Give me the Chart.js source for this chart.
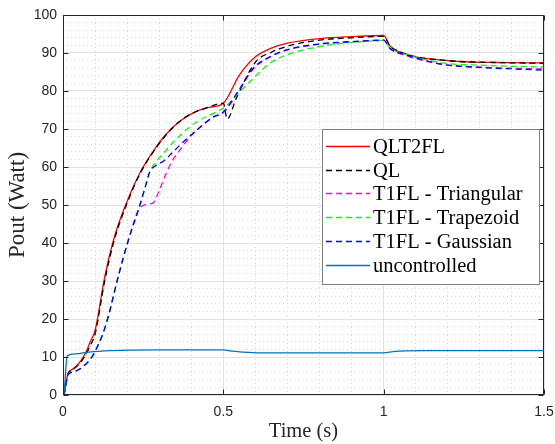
<!DOCTYPE html>
<html><head><meta charset="utf-8">
<script src="https://cdn.jsdelivr.net/npm/chart.js@4/dist/chart.umd.min.js"></script>
<style>html,body{margin:0;padding:0;background:#fff;}#wrap{width:555px;height:444px;}</style>
</head><body><div id="wrap"><canvas id="c" width="555" height="444"></canvas></div>
<script>
const seriesLabels = ['QLT2FL', 'QL', 'T1FL - Triangular', 'T1FL - Trapezoid', 'T1FL - Gaussian', 'uncontrolled'];
const xTickValues = [0, 0.5, 1, 1.5];
const yTickValues = [0, 10, 20, 30, 40, 50, 60, 70, 80, 90, 100];

const qlt2flTime  = [0, 0.004, 0.015, 0.03, 0.05, 0.07, 0.085, 0.1, 0.13, 0.16, 0.2, 0.24, 0.28, 0.32, 0.36, 0.4, 0.45, 0.5, 0.55, 0.6, 0.65, 0.7, 0.8, 0.9, 1.0, 1.02, 1.05, 1.1, 1.175, 1.25, 1.35, 1.5];
const qlt2flPower = [0, 0.5, 5.6, 6.8, 8.4, 11, 14, 17, 31, 41.5, 51, 58.5, 64, 68.5, 71.8, 74, 75.6, 76.8, 84.2, 89, 91.3, 92.6, 93.8, 94.3, 94.6, 91.8, 90.3, 89, 88.2, 87.7, 87.5, 87.4];

const qlTime  = [0, 0.004, 0.015, 0.03, 0.05, 0.07, 0.085, 0.1, 0.13, 0.16, 0.2, 0.24, 0.28, 0.32, 0.36, 0.4, 0.45, 0.5, 0.512, 0.54, 0.6, 0.65, 0.7, 0.8, 0.9, 1.0, 1.02, 1.05, 1.1, 1.175, 1.25, 1.35, 1.5];
const qlPower = [0, 0.5, 5.4, 6.6, 8.1, 10.5, 13, 16, 30, 40.8, 50.5, 58.2, 63.8, 68.3, 71.7, 74, 75.6, 76.8, 72.6, 78, 87.6, 90.2, 91.8, 93.4, 94.0, 94.4, 91.8, 90.3, 89, 88.2, 87.7, 87.5, 87.3];

const triTime  = [0, 0.004, 0.015, 0.03, 0.06, 0.09, 0.11, 0.126, 0.141, 0.172, 0.204, 0.235, 0.245, 0.262, 0.28, 0.3, 0.313, 0.34, 0.365, 0.39, 0.417, 0.469, 0.5, 0.552, 0.593, 0.645, 0.7, 0.8, 0.9, 1.0, 1.02, 1.07, 1.145, 1.2, 1.3, 1.4, 1.5];
const triPower = [0, 0.5, 5.3, 6, 7.3, 10, 13.2, 16.5, 20.6, 31.1, 40.8, 48.7, 49.6, 50.2, 50.5, 53.8, 56.6, 61.5, 64.5, 67.3, 69.7, 73.2, 74.3, 80.5, 85.8, 88.9, 90.8, 92.3, 92.9, 93.3, 91.1, 89.3, 87.6, 86.8, 86.3, 86, 85.8];

const trapTime  = [0, 0.004, 0.015, 0.03, 0.06, 0.09, 0.11, 0.126, 0.141, 0.172, 0.204, 0.235, 0.255, 0.271, 0.29, 0.313, 0.34, 0.365, 0.417, 0.469, 0.5, 0.52, 0.562, 0.593, 0.645, 0.697, 0.8, 0.905, 1.0, 1.02, 1.07, 1.145, 1.2, 1.3, 1.4, 1.5];
const trapPower = [0, 0.5, 5.3, 6, 7.3, 10, 13.2, 16.5, 20.6, 31.1, 40.8, 48.7, 54.3, 58.8, 61.3, 63.6, 66.2, 68.3, 71.9, 74.1, 75.5, 77, 80.7, 83.3, 87.3, 89.5, 91.7, 92.8, 93.3, 91.3, 89.6, 88, 87.2, 86.8, 86.5, 86.3];

const gaussTime  = [0, 0.004, 0.015, 0.03, 0.06, 0.09, 0.11, 0.126, 0.141, 0.172, 0.204, 0.235, 0.255, 0.271, 0.29, 0.313, 0.34, 0.365, 0.417, 0.469, 0.5, 0.552, 0.593, 0.645, 0.7, 0.8, 0.9, 1.0, 1.02, 1.07, 1.145, 1.2, 1.3, 1.4, 1.5];
const gaussPower = [0, 0.5, 5.3, 6, 7.3, 10, 13.2, 16.5, 20.6, 31.1, 40.8, 48.7, 54.3, 58.8, 60.4, 61.5, 63.7, 65.8, 69.7, 73.2, 74.5, 80.7, 86, 89, 90.9, 92.4, 93, 93.4, 91.2, 89.5, 87.7, 86.8, 86.2, 85.8, 85.5];

const uncTime  = [0, 0.003, 0.013, 0.04, 0.08, 0.15, 0.3, 0.5, 0.52, 0.56, 0.62, 0.8, 1.0, 1.03, 1.07, 1.13, 1.3, 1.5];
const uncPower = [0, 0.5, 10.3, 10.8, 11.3, 11.7, 11.9, 11.9, 11.6, 11.3, 11.1, 11.1, 11.1, 11.4, 11.6, 11.7, 11.7, 11.7];

const seriesTimes  = [qlt2flTime, qlTime, triTime, trapTime, gaussTime, uncTime];
const seriesPowers = [qlt2flPower, qlPower, triPower, trapPower, gaussPower, uncPower];
const seriesColors = ['#ff0000', '#000000', '#ff00ff', '#00ff00', '#0000ff', '#0072bd'];
const seriesDashed = [false, true, true, true, true, false];

const datasets = seriesLabels.map((lab, i) => ({
  label: lab,
  data: seriesTimes[i].map((t, k) => ({x: t, y: seriesPowers[i][k]})),
  borderColor: seriesColors[i],
  backgroundColor: seriesColors[i],
  borderWidth: 1.3,
  borderDash: seriesDashed[i] ? [6, 4] : [],
  pointRadius: 0,
  fill: false,
  cubicInterpolationMode: 'monotone',
  order: seriesLabels.length - i
}));

const AX = '#262626';
const serif = "'Liberation Serif', 'Times New Roman', serif";
const sans = "'Liberation Sans', Arial, Helvetica, sans-serif";

const boxPlugin = {
  id: 'boxPlugin',
  afterDraw(chart) {
    const {ctx, chartArea: ca, scales} = chart;
    const L = Math.round(ca.left) + 0.5, R = Math.round(ca.right) - 0.5;
    const T = Math.round(ca.top) + 0.5, B = Math.round(ca.bottom) - 0.5;
    ctx.save();
    ctx.strokeStyle = AX; ctx.lineWidth = 1; ctx.setLineDash([]);
    ctx.beginPath();
    ctx.rect(L, T, R - L, B - T);
    xTickValues.forEach(v => {
      const px = Math.round(scales.x.getPixelForValue(v)) + 0.5;
      ctx.moveTo(px, B); ctx.lineTo(px, B - 5);
      ctx.moveTo(px, T); ctx.lineTo(px, T + 5);
    });
    yTickValues.forEach(v => {
      const py = Math.round(scales.y.getPixelForValue(v)) + 0.5;
      ctx.moveTo(L, py); ctx.lineTo(L + 5, py);
      ctx.moveTo(R, py); ctx.lineTo(R - 5, py);
    });
    ctx.stroke();

    // legend
    const bx = 322.5, by = 129.5, bw = 217, bh = 155;
    ctx.fillStyle = '#ffffff';
    ctx.fillRect(bx, by, bw, bh);
    ctx.strokeStyle = '#808080';
    ctx.strokeRect(bx, by, bw, bh);
    ctx.font = '20.5px ' + serif;
    ctx.textBaseline = 'middle';
    ctx.textAlign = 'left';
    chart.data.datasets.forEach((ds, i) => {
      const yy = Math.round(146 + i * 23.7) + 0.5;
      ctx.strokeStyle = ds.borderColor;
      ctx.lineWidth = ds.borderWidth;
      ctx.setLineDash(ds.borderDash);
      ctx.beginPath(); ctx.moveTo(326, yy); ctx.lineTo(370, yy); ctx.stroke();
      ctx.setLineDash([]);
      ctx.fillStyle = '#000000';
      ctx.fillText(ds.label, 373, yy + 1);
    });
    ctx.restore();
  }
};

const noPad = s => { s.paddingLeft = 0; s.paddingRight = 0; };

new Chart(document.getElementById('c'), {
  type: 'line',
  data: {datasets},
  options: {
    responsive: false,
    animation: false,
    devicePixelRatio: 1,
    layout: {padding: {top: 15, right: 11, left: 0, bottom: 0}},
    plugins: {legend: {display: false}, tooltip: {enabled: false}},
    scales: {
      x: {
        type: 'linear', min: 0, max: 1.5, position: 'bottom',
        afterBuildTicks: s => { s.ticks = xTickValues.map(v => ({value: v})); },
        ticks: {font: {family: sans, size: 14}, color: AX, padding: 9, maxRotation: 0, autoSkip: false,
                callback: v => String(v)},
        grid: {color: '#e2e2e2', drawTicks: false, lineWidth: 1},
        border: {display: false},
        title: {display: true, text: 'Time (s)', color: AX, font: {family: serif, size: 20.5}, padding: {top: 0, bottom: 0}},
        afterFit: s => { s.height = 49; noPad(s); }
      },
      xMinor: {
        type: 'linear', min: 0, max: 1.5, position: 'bottom',
        afterBuildTicks: s => { const t = []; for (let k = 1; k < 15; k++) if (k % 5) t.push({value: k / 10}); s.ticks = t; },
        ticks: {display: false},
        grid: {color: '#d6d6d6', drawTicks: false, lineWidth: 1},
        border: {display: false, dash: [1, 3]},
        afterFit: s => { s.height = 0; noPad(s); }
      },
      y: {
        type: 'linear', min: 0, max: 100, position: 'left',
        afterBuildTicks: s => { s.ticks = yTickValues.map(v => ({value: v})); },
        ticks: {font: {family: sans, size: 14}, color: AX, padding: 6, autoSkip: false},
        grid: {color: '#e2e2e2', drawTicks: false, lineWidth: 1},
        border: {display: false},
        title: {display: true, text: 'Pout (Watt)', color: AX, font: {family: serif, size: 23}, padding: {top: 4, bottom: 0}},
        afterFit: s => { s.width = 63; }
      },
      yMinor: {
        type: 'linear', min: 0, max: 100, position: 'left',
        afterBuildTicks: s => { const t = []; for (let k = 1; k < 50; k++) if (k % 5) t.push({value: k * 2}); s.ticks = t; },
        ticks: {display: false},
        grid: {color: '#d6d6d6', drawTicks: false, lineWidth: 1},
        border: {display: false, dash: [1, 3]},
        afterFit: s => { s.width = 0; }
      }
    }
  },
  plugins: [boxPlugin]
});
</script>
</body></html>
